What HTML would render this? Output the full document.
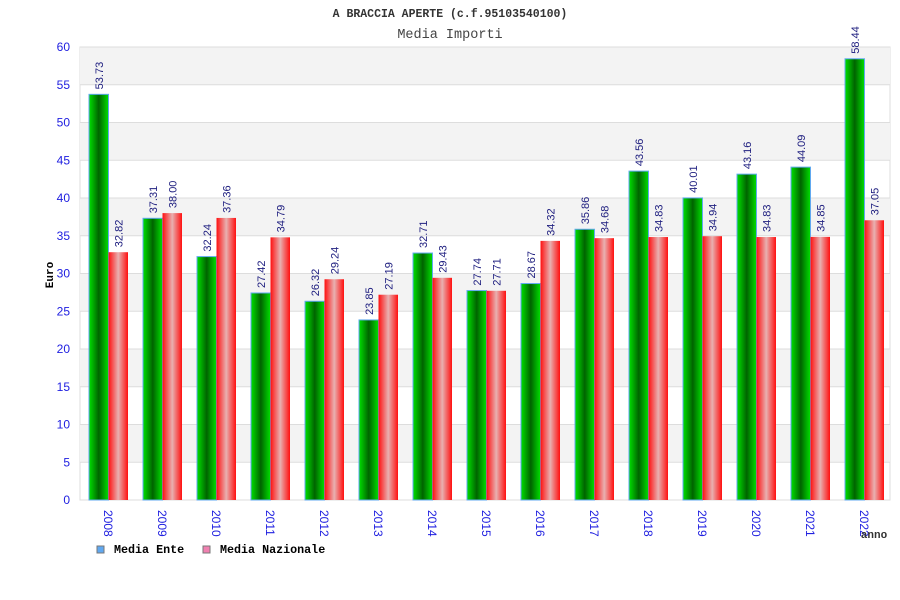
<!DOCTYPE html>
<html><head><meta charset="utf-8"><style>
body{margin:0;background:#fff;}
svg{display:block;font-family:"Liberation Sans",sans-serif;}
</style></head><body>
<svg id="chart" width="900" height="600">
<defs>
<linearGradient id="gG" x1="0" x2="1"><stop offset="0" stop-color="#00e000"/><stop offset="0.5" stop-color="#006400"/><stop offset="1" stop-color="#00e000"/></linearGradient>
<linearGradient id="gR" x1="0" x2="1"><stop offset="0" stop-color="#ff1010"/><stop offset="0.5" stop-color="#e8b0b0"/><stop offset="1" stop-color="#ff1010"/></linearGradient>
</defs>
<text x="450" y="17" text-anchor="middle" font-family="Liberation Mono,monospace" font-weight="bold" font-size="11.5" fill="#333">A BRACCIA APERTE (c.f.95103540100)</text>
<text x="450" y="38" text-anchor="middle" font-family="Liberation Mono,monospace" font-size="13.5" fill="#444">Media Importi</text>
<g id="bands"></g>
<g id="yticks"></g>
<g id="bars"></g>
<g id="xlabels"></g>
<text transform="translate(53,275) rotate(-90)" text-anchor="middle" font-family="Liberation Mono,monospace" font-weight="bold" font-size="11" fill="#000">Euro</text>
<text x="874" y="538" text-anchor="middle" font-family="Liberation Mono,monospace" font-weight="bold" font-size="11" fill="#333">anno</text>
<g><rect x="97" y="546" width="7" height="7" fill="#60a8f0" stroke="#777"/><text x="114" y="553" font-family="Liberation Mono,monospace" font-weight="bold" font-size="11.7" fill="#000">Media Ente</text></g>
<g><rect x="203" y="546" width="7" height="7" fill="#f080b0" stroke="#777"/><text x="220" y="553" font-family="Liberation Mono,monospace" font-weight="bold" font-size="11.7" fill="#000">Media Nazionale</text></g>
</svg>
<script>
const years=["2008","2009","2010","2011","2012","2013","2014","2015","2016","2017","2018","2019","2020","2021","2022"];
const ente=[53.73,37.31,32.24,27.42,26.32,23.85,32.71,27.74,28.67,35.86,43.56,40.01,43.16,44.09,58.44];
const naz=[32.82,38.00,37.36,34.79,29.24,27.19,29.43,27.71,34.32,34.68,34.83,34.94,34.83,34.85,37.05];
const yTicks=[0,5,10,15,20,25,30,35,40,45,50,55,60];
const NS="http://www.w3.org/2000/svg";
const L=80,R=890,T=47,B=500,yMax=60;
const y=v=>B-(v/yMax)*(B-T);
const gw=(R-L)/years.length;
const x=i=>L+i*gw;
function mk(t,a,p){const e=document.createElementNS(NS,t);for(const k in a)e.setAttribute(k,a[k]);p.appendChild(e);return e;}
const bands=document.getElementById('bands');
const bg=mk('rect',{x:L,y:T,width:R-L,height:B-T,fill:'#fff',stroke:'#ddd'},bands);


for(let k=0;k<yTicks.length-1;k++){
  if(k%2===1){const r=mk('rect',{x:L,y:y(yTicks[k+1]),width:R-L,height:y(yTicks[k])-y(yTicks[k+1]),fill:'#f3f3f3'},bands);
  
  }
}
const yt=document.getElementById('yticks');
yTicks.forEach(v=>{
  const l=mk('line',{x1:L,x2:R,y1:y(v),y2:y(v),stroke:'#ddd'},yt);
  
  
  const t=mk('text',{x:70,y:y(v)+4,'text-anchor':'end','font-size':12,fill:'#2020e0'},yt);
  t.textContent=v;
  
  
});
const bars=document.getElementById('bars'),xl=document.getElementById('xlabels');
years.forEach((yr,i)=>{
  const gx=x(i)+9;
  const b1=mk('rect',{x:gx,y:y(ente[i]),width:19.5,height:B-y(ente[i]),fill:'url(#gG)',stroke:'#60a8f0','stroke-width':1},bars);
  
  
  const b2=mk('rect',{x:gx+19.5,y:y(naz[i]),width:19.5,height:B-y(naz[i]),fill:'url(#gR)'},bars);
  
  
  [[ente[i],gx+10,'ente'],[naz[i],gx+29.5,'nazionale']].forEach(([v,cx,n])=>{
    const t=mk('text',{transform:`translate(${cx+4},${y(v)-5}) rotate(-90)`,'font-size':11,fill:'#202080'},bars);
    t.textContent=v.toFixed(2);
    
    
  });
  const t=mk('text',{transform:`translate(${gx+15},510) rotate(90)`,'font-size':12,fill:'#2020e0'},xl);
  t.textContent=yr;
  
  
});
</script>
</body></html>
